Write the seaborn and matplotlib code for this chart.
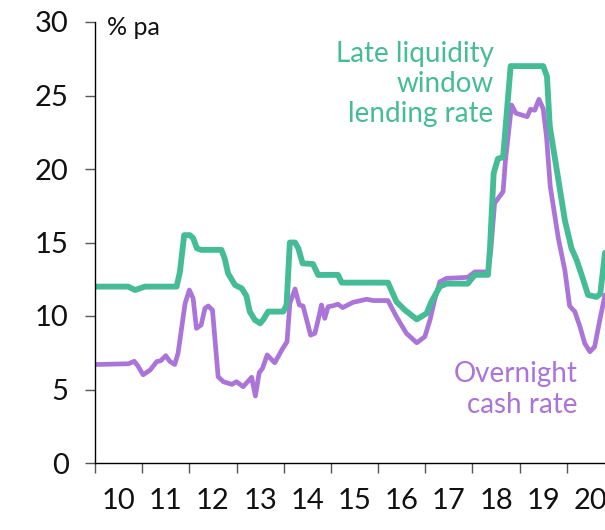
import numpy as np
import pandas as pd
import matplotlib
matplotlib.use("Agg")
import matplotlib.pyplot as plt
import seaborn as sns

# ---- data (decimal years, % pa) ----
lending_year = [2010.00, 2010.70, 2010.85, 2011.06, 2011.73, 2011.80, 2011.89, 2012.01, 2012.08,
                2012.16, 2012.25, 2012.68, 2012.75, 2012.82, 2012.97, 2013.11, 2013.21, 2013.28,
                2013.39, 2013.50, 2013.57, 2013.67, 2013.99, 2014.06, 2014.13, 2014.24, 2014.31,
                2014.40, 2014.62, 2014.73, 2015.15, 2015.23, 2016.21, 2016.39, 2016.57, 2016.82,
                2017.03, 2017.13, 2017.31, 2017.45, 2017.90, 2018.05, 2018.33, 2018.37, 2018.45,
                2018.54, 2018.65, 2018.81, 2019.50, 2019.58, 2019.64, 2019.96, 2020.10, 2020.21,
                2020.35, 2020.45, 2020.63, 2020.71, 2020.81]
lending_rate = [12.0, 12.0, 11.77, 12.0, 12.0, 13.0, 15.5, 15.5, 15.3,
                14.6, 14.5, 14.5, 13.9, 12.9, 12.1, 11.88, 11.36, 10.3,
                9.73, 9.5, 9.77, 10.3, 10.3, 10.75, 15.0, 15.0, 14.6,
                13.58, 13.54, 12.79, 12.8, 12.27, 12.27, 10.97, 10.4, 9.77,
                10.18, 10.97, 12.0, 12.2, 12.2, 12.8, 12.8, 14.5, 19.7,
                20.7, 20.8, 27.0, 27.0, 26.3, 22.9, 16.5, 14.6, 13.8,
                12.45, 11.43, 11.3, 11.5, 14.3]

cash_year = [2010.00, 2010.71, 2010.83, 2010.91, 2011.02, 2011.17, 2011.31, 2011.39, 2011.50,
             2011.59, 2011.69, 2011.76, 2011.91, 2012.00, 2012.08, 2012.15, 2012.25, 2012.33,
             2012.40, 2012.49, 2012.61, 2012.72, 2012.90, 2013.00, 2013.14, 2013.32, 2013.40,
             2013.48, 2013.55, 2013.65, 2013.81, 2013.96, 2014.07, 2014.13, 2014.24, 2014.33,
             2014.41, 2014.57, 2014.66, 2014.73, 2014.80, 2014.87, 2014.94, 2015.05, 2015.15,
             2015.25, 2015.47, 2015.76, 2015.90, 2016.21, 2016.39, 2016.60, 2016.82, 2016.99,
             2017.10, 2017.20, 2017.31, 2017.45, 2017.90, 2018.05, 2018.33, 2018.39, 2018.47,
             2018.65, 2018.70, 2018.83, 2018.92, 2019.16, 2019.23, 2019.32, 2019.41, 2019.50,
             2019.57, 2019.65, 2019.82, 2019.96, 2020.06, 2020.17, 2020.28, 2020.38, 2020.49,
             2020.59, 2020.70, 2020.81]
cash_rate = [6.7, 6.75, 6.92, 6.6, 6.0, 6.33, 6.9, 6.95, 7.3,
             6.9, 6.7, 7.46, 10.86, 11.77, 11.2, 9.16, 9.39, 10.52,
             10.68, 10.4, 5.87, 5.53, 5.35, 5.53, 5.19, 5.83, 4.56,
             6.14, 6.44, 7.35, 6.82, 7.69, 8.25, 10.86, 11.84, 10.75,
             10.68, 8.7, 8.82, 9.73, 10.75, 9.84, 10.63, 10.7, 10.8,
             10.57, 10.93, 11.14, 11.05, 11.05, 9.95, 8.82, 8.18, 8.59,
             9.73, 11.1, 12.33, 12.56, 12.63, 13.0, 13.0, 14.5, 17.67,
             18.46, 20.6, 24.35, 23.8, 23.56, 24.06, 24.0, 24.74, 24.1,
             22.2, 18.8, 15.3, 13.1, 10.68, 10.3, 9.27, 8.14, 7.57,
             7.91, 9.73, 11.43]

year_ticks = list(range(2010, 2021))
year_labels = ["10", "11", "12", "13", "14", "15", "16", "17", "18", "19", "20"]
y_ticks = [0, 5, 10, 15, 20, 25, 30]

GREEN = "#45BC95"
PURPLE = "#AA74D8"

sns.set_theme(style="white")
plt.rcParams["font.family"] = ["Lato", "DejaVu Sans"]

fig = plt.figure(figsize=(6.05, 5.30), dpi=100)
ax = fig.add_axes([95 / 605, 1 - 463 / 530, 1 - 95 / 605, (463 - 22) / 530])

cash_df = pd.DataFrame({"year": cash_year, "rate": cash_rate})
lend_df = pd.DataFrame({"year": lending_year, "rate": lending_rate})
sns.lineplot(data=cash_df, x="year", y="rate", ax=ax, color=PURPLE, linewidth=3.4,
             sort=False, estimator=None)
sns.lineplot(data=lend_df, x="year", y="rate", ax=ax, color=GREEN, linewidth=4.2,
             sort=False, estimator=None)

ax.set_xlim(2010, 2020.81)
ax.set_ylim(0, 30)
ax.set_xlabel("")
ax.set_ylabel("")

for s in ["top", "right"]:
    ax.spines[s].set_visible(False)
for s in ["left", "bottom"]:
    ax.spines[s].set_color("black")
    ax.spines[s].set_linewidth(1.0)

ax.set_yticks(y_ticks)
ax.set_yticklabels([str(v) for v in y_ticks])
ax.tick_params(axis="y", which="major", direction="out", length=7, width=1.0,
               color="#555555", labelsize=21, pad=12, left=True, labelcolor="#111111")

ax.set_xticks(year_ticks)
ax.set_xticklabels([])
ax.set_xticks([y + 0.5 for y in year_ticks], minor=True)
ax.set_xticklabels(year_labels, minor=True)
ax.tick_params(axis="x", which="major", direction="out", length=7, width=1.0,
               color="#555555", bottom=True)
ax.tick_params(axis="x", which="minor", length=0, labelsize=21, pad=18,
               labelcolor="#111111")

ax.text(0.024, 29.6, "% pa", transform=ax.get_yaxis_transform(), fontsize=18,
        color="#111111", ha="left", va="center")
ax.text(2018.45, 25.8, "Late liquidity\nwindow\nlending rate", fontsize=20, color=GREEN,
        ha="right", va="center", linespacing=1.2, multialignment="right")
ax.text(2020.23, 5.0, "Overnight\ncash rate", fontsize=20, color=PURPLE,
        ha="right", va="center", linespacing=1.2, multialignment="right")

fig.savefig("out.png", dpi=100)
